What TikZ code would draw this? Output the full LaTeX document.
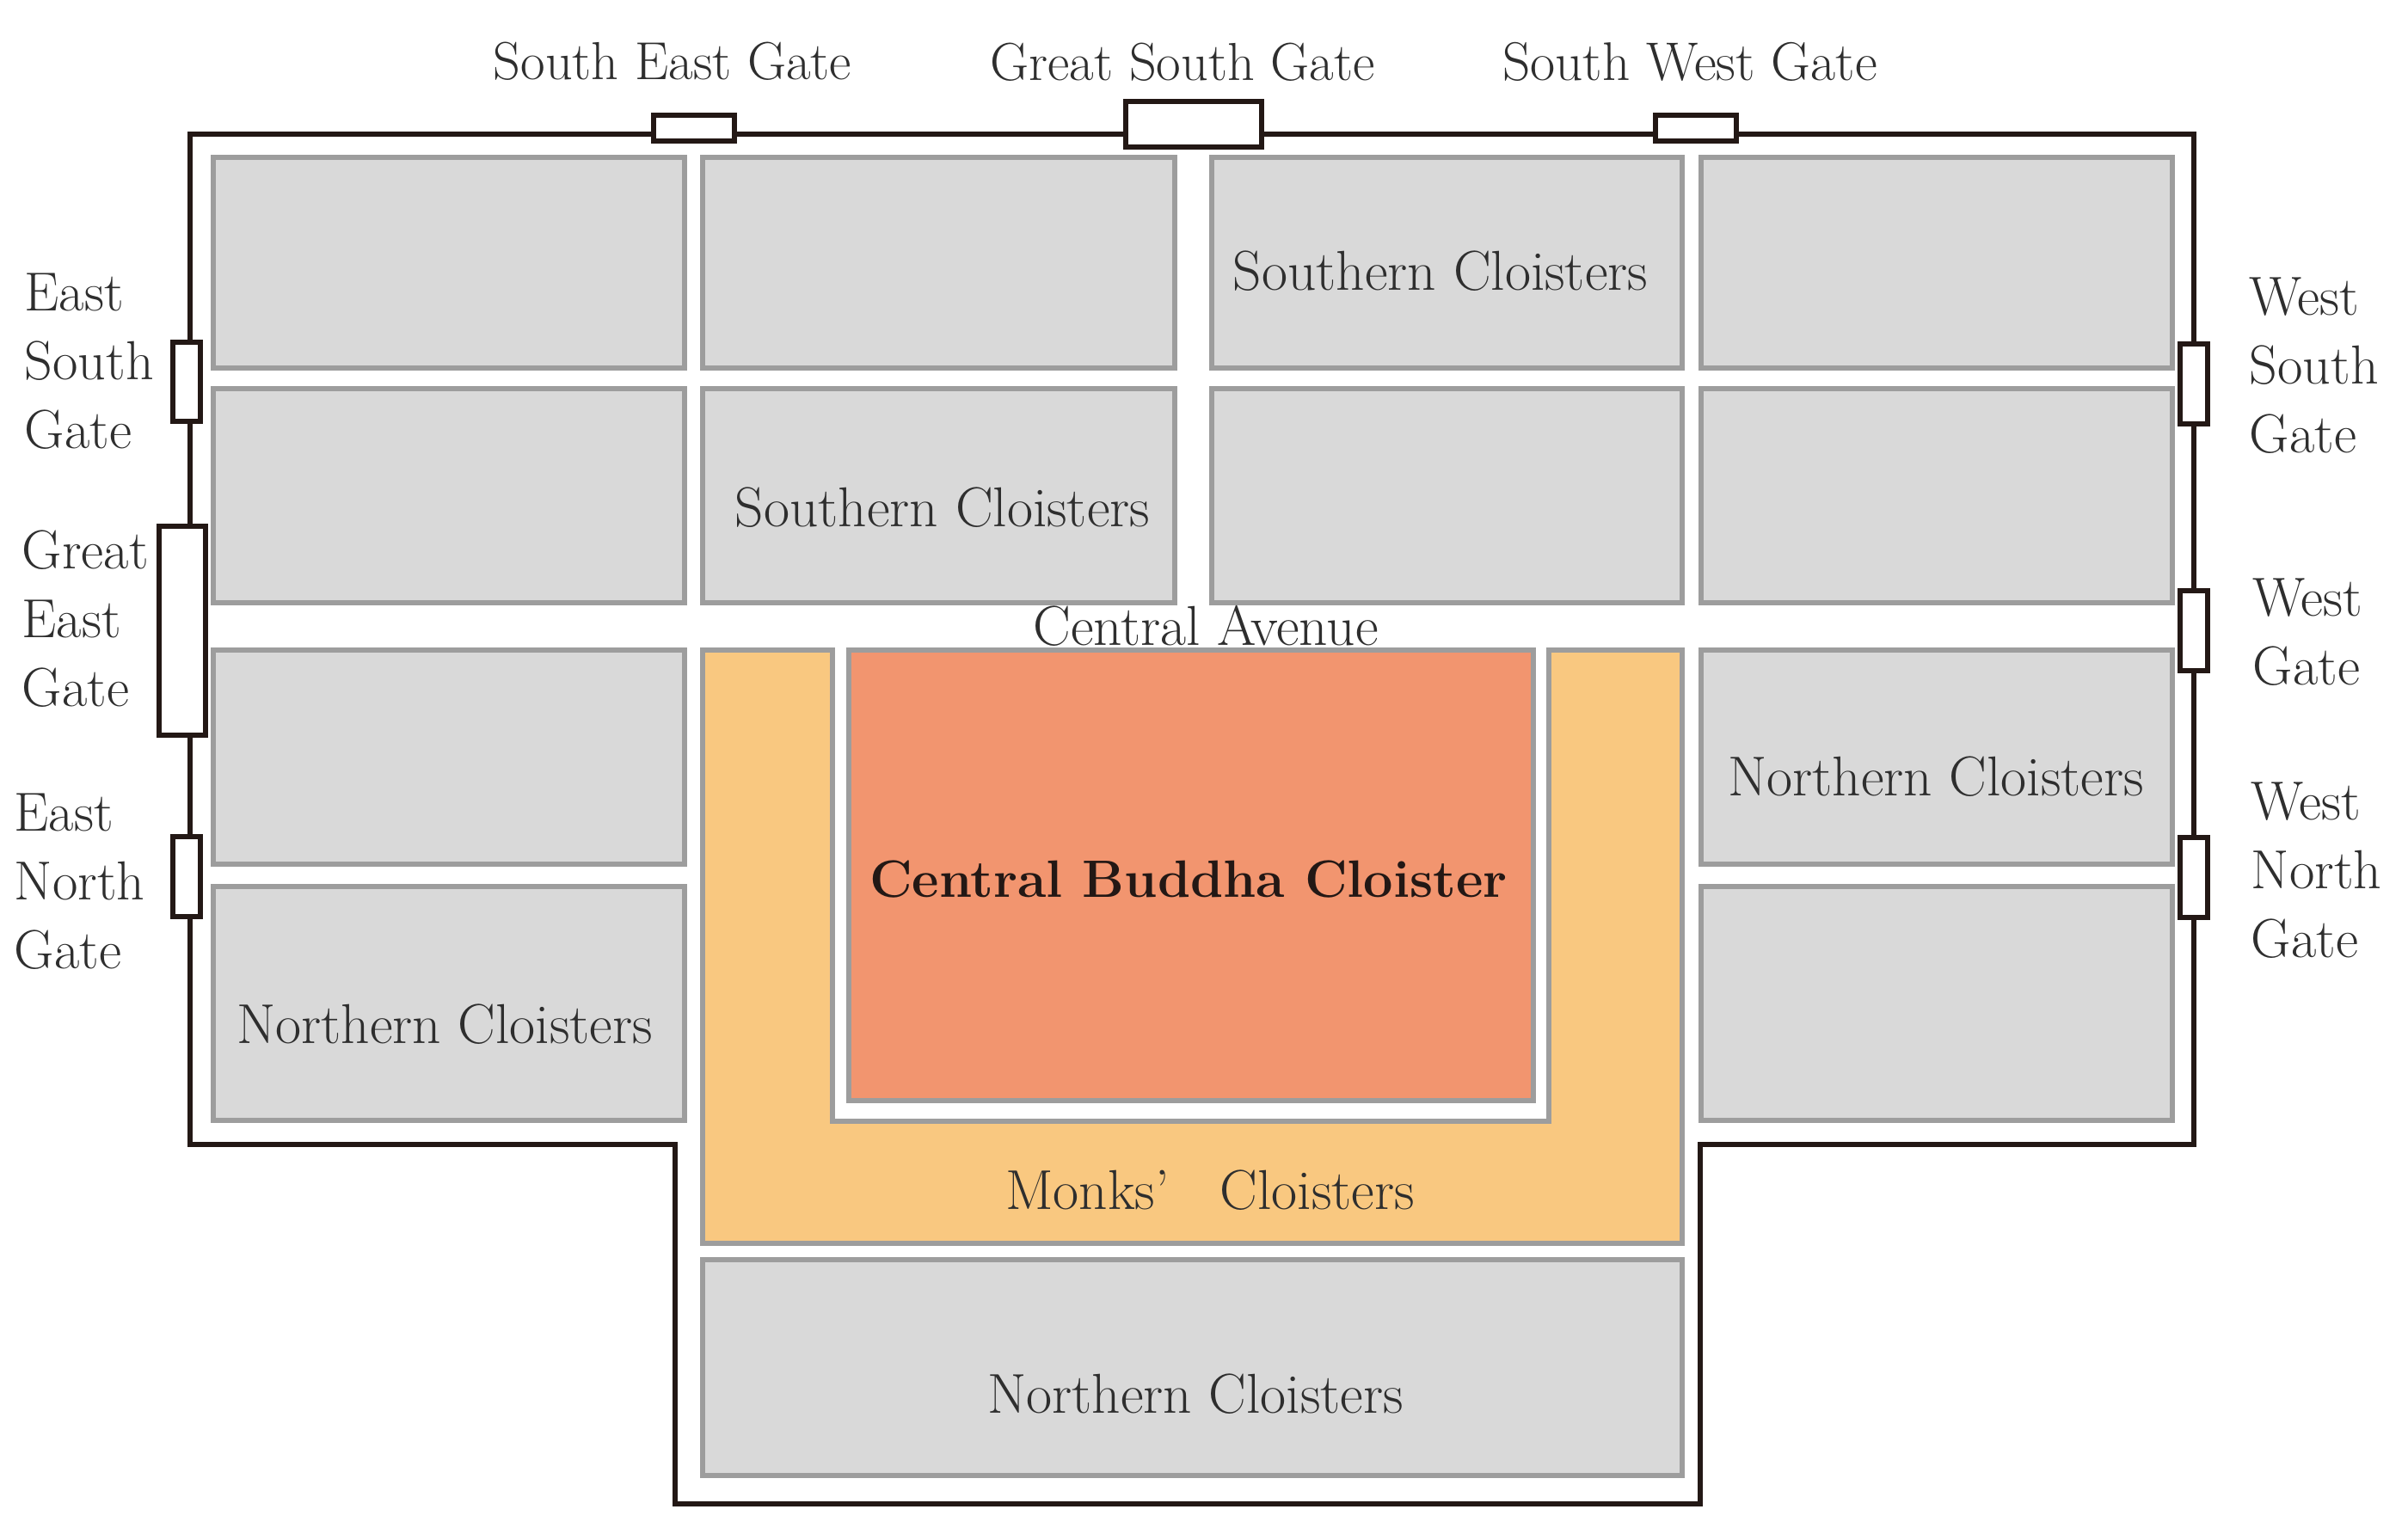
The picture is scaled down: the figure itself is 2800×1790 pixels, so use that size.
\documentclass[tikz,border=0pt]{standalone}
\definecolor{wallcol}{HTML}{231815}
\definecolor{edgecol}{HTML}{9D9D9D}
\definecolor{cloistercol}{HTML}{D9D9D9}
\definecolor{monkscol}{HTML}{F9C880}
\definecolor{buddhacol}{HTML}{F2956F}
\definecolor{textcol}{HTML}{2E2E2E}
\tikzset{
  wall/.style={draw=wallcol,line width=0.55mm},
  gatebox/.style={draw=wallcol,fill=white,line width=0.55mm},
  cloister/.style={draw=edgecol,fill=cloistercol,line width=0.55mm},
  lbl/.style={text=textcol,inner sep=0pt,font=\fontsize{18.6}{22.8}\selectfont},
  toplbl/.style={lbl,font=\fontsize{17.7}{22.8}\selectfont},
  sidelbl/.style={lbl,align=left,anchor=west,font=\fontsize{18.2}{22.8}\selectfont}
}
\begin{document}
\begin{tikzpicture}[x=0.1mm,y=-0.1mm]
  \useasboundingbox (0,0) rectangle (2800,1790);
  % outer wall
  \draw[wall] (221,156) -- (2551,156) -- (2551,1331) -- (1977,1331) -- (1977,1749)
    -- (785,1749) -- (785,1331) -- (221,1331) -- cycle;
  % gates
  \foreach \xa/\ya/\xb/\yb in {760/134/854/164, 1309/118/1467/171, 1925/134/2019/164,
      201/398/233/490, 185/612/239/855, 201/973/233/1066,
      2535/400/2567/493, 2535/687/2567/780, 2535/974/2567/1067}
    \draw[gatebox] (\xa,\ya) rectangle (\xb,\yb);
  % cloister blocks
  \foreach \xa/\xb in {248/796, 1978/2526}
    \foreach \ya/\yb in {183/428, 452/701, 756/1005, 1031/1303}
      \draw[cloister] (\xa,\ya) rectangle (\xb,\yb);
  \foreach \xa/\xb in {817/1366, 1409/1956}
    \foreach \ya/\yb in {183/428, 452/701}
      \draw[cloister] (\xa,\ya) rectangle (\xb,\yb);
  \draw[cloister] (817,1465) rectangle (1956,1716);
  % monks and central cloister
  \draw[draw=edgecol,fill=monkscol,line width=0.55mm] (817,756) -- (968,756) -- (968,1304)
    -- (1801,1304) -- (1801,756) -- (1956,756) -- (1956,1446) -- (817,1446) -- cycle;
  \draw[draw=edgecol,fill=buddhacol,line width=0.55mm] (987,756) rectangle (1783,1280);
  % labels
  \node[toplbl] (segate) at (782,71) {South East Gate};
  \node[toplbl] (gsgate) at (1375,72) {Great South Gate};
  \node[toplbl,font=\fontsize{18}{22.8}\selectfont] (swgate) at (1965,72) {South West Gate};
  \node[sidelbl] (esgate) at (28,420) {East\\South\\Gate};
  \node[sidelbl] (gegate) at (25,720) {Great\\East\\Gate};
  \node[sidelbl] (engate) at (16,1025) {East\\North\\Gate};
  \node[sidelbl] (wsgate) at (2615,425) {West\\South\\Gate};
  \node[sidelbl] (wgate) at (2619,735) {West\\Gate};
  \node[sidelbl] (wngate) at (2617,1012) {West\\North\\Gate};
  \node[lbl] (south1) at (1675,315) {Southern Cloisters};
  \node[lbl] (south2) at (1096,590) {Southern Cloisters};
  \node[lbl] (avenue) at (1402,728) {Central Avenue};
  \node[lbl] (north1) at (2251,903) {Northern Cloisters};
  \node[lbl] (north2) at (517,1191) {Northern Cloisters};
  \node[lbl] (north3) at (1390,1621) {Northern Cloisters};
  \node[lbl] (monks) at (1407,1384) {Monks’\ \ \ Cloisters};
  \node[lbl,text=wallcol,font=\fontsize{17.4}{22.8}\selectfont\bfseries] (buddha) at (1382,1022) {Central Buddha Cloister};
\end{tikzpicture}
\end{document}
